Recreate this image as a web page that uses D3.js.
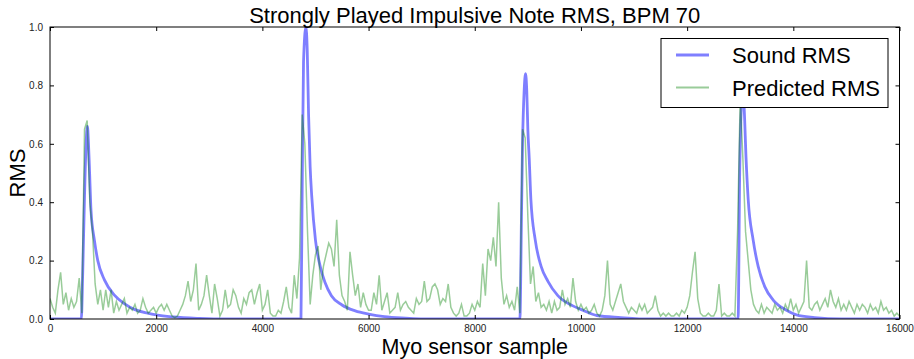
<!DOCTYPE html>
<html>
<head>
<meta charset="utf-8">
<script src="https://cdn.jsdelivr.net/npm/d3@7"></script>
<style>
  html, body { margin: 0; padding: 0; background: #fff; }
  svg { display: block; font-family: "Liberation Sans", Arial, Helvetica, sans-serif; }
</style>
</head>
<body>
<svg id="chart" width="914" height="359"></svg>
<script>
// ---------- data ----------
const titleText = "Strongly Played Impulsive Note RMS, BPM 70";
const xLabel = "Myo sensor sample";
const yLabel = "RMS";
const seriesNames = ["Sound RMS", "Predicted RMS"];
const xTicks = [0, 2000, 4000, 6000, 8000, 10000, 12000, 14000, 16000];
const yTicks = [0.0, 0.2, 0.4, 0.6, 0.8, 1.0];

// Sound RMS: sample positions and values
const soundSample = [0, 590, 615, 650, 680, 705, 725, 742, 773, 836, 900, 1025, 1213, 1400, 1590, 1840, 2000, 2320, 2820, 3300, 4727,
  4750, 4775, 4820, 4845, 4870, 4900, 4930, 5000, 5090, 5180, 5300, 5500, 5750, 6000, 6300, 6700, 7200, 8850,
  8880, 8900, 8930, 8957, 8980, 9000, 9026, 9057, 9140, 9250, 9376, 9565, 9848, 10036, 10300, 10750, 11300, 12960,
  12990, 13020, 13050, 13075, 13110, 13150, 13244, 13338, 13464, 13621, 13872, 14060, 14400, 14900, 16000];
const soundValue = [0, 0, 0.15, 0.42, 0.6, 0.66, 0.6, 0.52, 0.37, 0.27, 0.2, 0.134, 0.082, 0.053, 0.033, 0.02, 0.014, 0.007, 0.002, 0, 0,
  0.45, 0.88, 1.0, 0.92, 0.7, 0.52, 0.42, 0.27, 0.18, 0.125, 0.08, 0.048, 0.028, 0.017, 0.008, 0.003, 0, 0,
  0.35, 0.6, 0.78, 0.84, 0.78, 0.65, 0.55, 0.41, 0.27, 0.18, 0.13, 0.08, 0.045, 0.03, 0.012, 0.005, 0, 0,
  0.5, 0.72, 0.78, 0.72, 0.55, 0.41, 0.27, 0.18, 0.11, 0.065, 0.03, 0.014, 0.005, 0, 0];

// Predicted RMS: one value every 50 samples from 0 to 16000
const predictedStep = 50;
const predictedValue = [
  0.07,0.04,0.02,0.10,0.16,0.05,0.09,0.03,0.07,0.04,0.06,0.14,
  0.02,0.65,0.68,0.40,0.30,0.12,0.05,0.10,0.03,
  0.10,0.04,0.10,0.02,0.06,0.03,0.05,0.07,0.02,0.04,0.03,0.05,0.02,0.03,0.07,0.04,0.02,0.03,0.04,0.02,
  0.04,0.05,0.03,0.05,0.03,0.01,0.005,0.01,0.03,0.05,0.08,0.13,0.06,0.10,0.19,0.03,0.05,0.08,0.15,0.08,
  0.02,0.12,0.07,0.01,0.03,0.10,0.04,0.05,0.10,0.08,0.04,0.02,0.07,0.05,0.09,0.10,0.05,0.09,0.12,0.03,
  0.05,0.10,0.02,0.01,0.01,0.03,0.02,0.06,0.11,0.04,0.02,0.15,0.07,0.21,0.70,0.60,0.30,0.05,0.15,0.22,
  0.25,0.10,0.18,0.22,0.26,0.24,0.18,0.34,0.15,0.08,0.06,0.03,0.23,0.15,0.08,0.12,0.04,0.09,0.05,0.03,
  0.03,0.09,0.05,0.15,0.03,0.06,0.09,0.02,0.03,0.04,0.09,0.03,0.05,0.06,0.04,0.03,0.02,0.07,0.05,0.06,
  0.13,0.06,0.07,0.11,0.12,0.10,0.05,0.07,0.06,0.12,0.04,0.02,0.01,0.02,0.05,0.01,0.01,0.02,0.05,0.03,
  0.06,0.04,0.19,0.08,0.24,0.20,0.28,0.18,0.40,0.14,0.05,0.08,0.04,0.06,0.03,0.11,0.02,0.65,0.62,0.35,
  0.12,0.18,0.06,0.09,0.04,0.05,0.03,0.06,0.02,0.06,0.03,0.04,0.10,0.05,0.07,0.04,0.14,0.06,0.03,0.05,
  0.03,0.04,0.02,0.03,0.05,0.02,0.01,0.03,0.08,0.20,0.05,0.03,0.06,0.09,0.12,0.06,0.04,0.02,0.04,0.03,
  0.02,0.05,0.03,0.05,0.02,0.03,0.04,0.08,0.03,0.01,0.02,0.01,0.02,0.01,0.01,0.02,0.01,0.03,0.02,0.04,
  0.08,0.16,0.23,0.07,0.02,0.01,0.01,0.02,0.01,0.01,0.03,0.12,0.01,0.02,0.01,0.01,0.02,0.01,0.30,0.76,
  0.55,0.30,0.20,0.10,0.05,0.03,0.02,0.05,0.02,0.04,0.03,0.02,0.05,0.03,0.04,0.02,0.05,0.03,0.07,0.03,
  0.05,0.02,0.04,0.06,0.20,0.04,0.03,0.05,0.06,0.03,0.05,0.07,0.04,0.10,0.06,0.04,0.07,0.03,0.05,0.03,
  0.06,0.04,0.02,0.05,0.03,0.05,0.04,0.02,0.05,0.03,0.04,0.02,0.06,0.03,0.04,0.02,0.03,0.01,0.02,0.01
];

// ---------- layout ----------
const svg = d3.select("#chart");
const L = 50, R = 899.5, T = 27, B = 319;
const x = d3.scaleLinear().domain([0, 16000]).range([L, R]);
const y = d3.scaleLinear().domain([0, 1]).range([B, T]);

svg.append("defs").append("clipPath").attr("id", "plotclip")
  .append("rect").attr("x", L).attr("y", T).attr("width", R - L).attr("height", B - T);

const plot = svg.append("g").attr("clip-path", "url(#plotclip)");

const soundData = soundSample.map((s, i) => [s, soundValue[i]]);
const predData = predictedValue.map((v, i) => [i * predictedStep, v]);

plot.append("path")
  .datum(soundData)
  .attr("fill", "none")
  .attr("stroke", "#0000ff")
  .attr("stroke-opacity", 0.5)
  .attr("stroke-width", 2.8)
  .attr("stroke-linejoin", "round")
  .attr("d", d3.line().x(d => x(d[0])).y(d => y(d[1])).curve(d3.curveMonotoneX));

plot.append("path")
  .datum(predData)
  .attr("fill", "none")
  .attr("stroke", "#008000")
  .attr("stroke-opacity", 0.4)
  .attr("stroke-width", 1.5)
  .attr("d", d3.line().x(d => x(d[0])).y(d => y(d[1])));

// ---------- axes (matplotlib classic: inward ticks on all sides) ----------
const fmtY = d3.format(".1f");
const axB = svg.append("g").attr("transform", `translate(0,${B})`)
  .call(d3.axisBottom(x).tickValues(xTicks).tickSizeInner(-4).tickSizeOuter(0).tickPadding(6).tickFormat(d3.format("d")));
const axT = svg.append("g").attr("transform", `translate(0,${T})`)
  .call(d3.axisTop(x).tickValues(xTicks).tickSizeInner(-4).tickSizeOuter(0).tickFormat(""));
const axL = svg.append("g").attr("transform", `translate(${L},0)`)
  .call(d3.axisLeft(y).tickValues(yTicks).tickSizeInner(-4).tickSizeOuter(0).tickPadding(7).tickFormat(fmtY));
const axR = svg.append("g").attr("transform", `translate(${R},0)`)
  .call(d3.axisRight(y).tickValues(yTicks).tickSizeInner(-4).tickSizeOuter(0).tickFormat(""));

[axB, axT, axL, axR].forEach(g => {
  g.select(".domain").remove();
  g.selectAll("line").attr("stroke", "#000").attr("stroke-width", 1);
  g.selectAll("text").attr("font-size", 10).attr("fill", "#222")
    .attr("font-family", "'Liberation Sans', Arial, sans-serif");
});

svg.append("rect").attr("x", L).attr("y", T).attr("width", R - L).attr("height", B - T)
  .attr("fill", "none").attr("stroke", "#000").attr("stroke-width", 1);

// ---------- labels ----------
svg.append("text").attr("x", (L + R) / 2).attr("y", 23)
  .attr("text-anchor", "middle").attr("font-size", 22).attr("fill", "#000").text(titleText);
svg.append("text").attr("x", (L + R) / 2).attr("y", 354)
  .attr("text-anchor", "middle").attr("font-size", 21.5).attr("fill", "#000").text(xLabel);
svg.append("text").attr("transform", `translate(25,${(T + B) / 2}) rotate(-90)`)
  .attr("text-anchor", "middle").attr("font-size", 22).attr("fill", "#000").text(yLabel);

// ---------- legend ----------
const lg = svg.append("g");
lg.append("rect").attr("x", 661).attr("y", 38.5).attr("width", 227).attr("height", 69)
  .attr("fill", "#fff").attr("stroke", "#000").attr("stroke-width", 1);
const legendStyles = [
  { color: "#0000ff", op: 0.5, w: 3 },
  { color: "#008000", op: 0.4, w: 1.8 }
];
seriesNames.forEach((name, i) => {
  const yy = 55 + i * 32.5;
  lg.append("line").attr("x1", 676).attr("x2", 709).attr("y1", yy).attr("y2", yy)
    .attr("stroke", legendStyles[i].color).attr("stroke-opacity", legendStyles[i].op)
    .attr("stroke-width", legendStyles[i].w);
  lg.append("text").attr("x", 732).attr("y", yy + 8).attr("font-size", 22).attr("fill", "#000").text(name);
});
</script>
</body>
</html>
